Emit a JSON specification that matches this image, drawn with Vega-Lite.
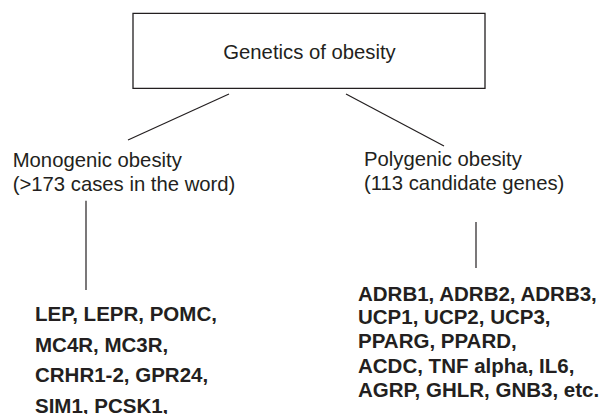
{
  "$schema": "https://vega.github.io/schema/vega-lite/v6.json",
  "width": 605,
  "height": 414,
  "autosize": {"type": "none"},
  "padding": 0,
  "background": "white",
  "config": {"view": {"stroke": null}},
  "datasets": {
    "box": [{"x": 133, "x2": 485, "y": 13.3, "y2": 88.3}],
    "links": [
      {"x": 229, "y": 94, "x2": 128, "y2": 140},
      {"x": 346, "y": 94, "x2": 444, "y2": 146},
      {"x": 86, "y": 200.7, "x2": 86, "y2": 290},
      {"x": 476, "y": 222, "x2": 476, "y2": 268}
    ],
    "labels": [
      {"level": "root", "text": "Genetics of obesity", "x": 309.5, "y": 59.3},
      {"level": "type", "text": "Monogenic obesity", "x": 12.7, "y": 166.7},
      {"level": "type", "text": "(>173 cases in the word)", "x": 12.7, "y": 190.7},
      {"level": "type", "text": "Polygenic obesity", "x": 364, "y": 166.3},
      {"level": "type", "text": "(113 candidate genes)", "x": 364, "y": 190.3},
      {"level": "gene", "text": "LEP, LEPR, POMC,", "x": 35, "y": 320.7},
      {"level": "gene", "text": "MC4R, MC3R,", "x": 35, "y": 351.7},
      {"level": "gene", "text": "CRHR1-2, GPR24,", "x": 35, "y": 382.3},
      {"level": "gene", "text": "SIM1, PCSK1,", "x": 35, "y": 413.3},
      {"level": "gene", "text": "ADRB1, ADRB2, ADRB3,", "x": 358, "y": 300.7},
      {"level": "gene", "text": "UCP1, UCP2, UCP3,", "x": 358, "y": 324.3},
      {"level": "gene", "text": "PPARG, PPARD,", "x": 358, "y": 348.3},
      {"level": "gene", "text": "ACDC, TNF alpha, IL6,", "x": 358, "y": 372.7},
      {"level": "gene", "text": "AGRP, GHLR, GNB3, etc.", "x": 358, "y": 396.7}
    ]
  },
  "layer": [
    {
      "data": {"name": "box"},
      "mark": {"type": "rect", "filled": false, "stroke": "#231f20", "strokeWidth": 1.3},
      "encoding": {
        "x": {"field": "x", "type": "quantitative", "scale": {"domain": [0, 605], "nice": false, "zero": false}, "axis": null},
        "x2": {"field": "x2"},
        "y": {"field": "y", "type": "quantitative", "scale": {"domain": [0, 414], "nice": false, "zero": false, "reverse": true}, "axis": null},
        "y2": {"field": "y2"}
      }
    },
    {
      "data": {"name": "links"},
      "mark": {"type": "rule", "stroke": "#231f20", "strokeWidth": 1.2},
      "encoding": {
        "x": {"field": "x", "type": "quantitative", "axis": null},
        "x2": {"field": "x2"},
        "y": {"field": "y", "type": "quantitative", "axis": null},
        "y2": {"field": "y2"}
      }
    },
    {
      "data": {"name": "labels"},
      "transform": [{"filter": "datum.level === 'root'"}],
      "mark": {"type": "text", "align": "center", "baseline": "alphabetic", "font": "Liberation Sans", "fontSize": 20.3, "fill": "#231f20"},
      "encoding": {
        "x": {"field": "x", "type": "quantitative", "axis": null},
        "y": {"field": "y", "type": "quantitative", "axis": null},
        "text": {"field": "text"}
      }
    },
    {
      "data": {"name": "labels"},
      "transform": [{"filter": "datum.level === 'type'"}],
      "mark": {"type": "text", "align": "left", "baseline": "alphabetic", "font": "Liberation Sans", "fontSize": 20.3, "fill": "#231f20"},
      "encoding": {
        "x": {"field": "x", "type": "quantitative", "axis": null},
        "y": {"field": "y", "type": "quantitative", "axis": null},
        "text": {"field": "text"}
      }
    },
    {
      "data": {"name": "labels"},
      "transform": [{"filter": "datum.level === 'gene'"}],
      "mark": {"type": "text", "align": "left", "baseline": "alphabetic", "font": "Liberation Sans", "fontSize": 20.5, "fontWeight": "bold", "fill": "#231f20"},
      "encoding": {
        "x": {"field": "x", "type": "quantitative", "axis": null},
        "y": {"field": "y", "type": "quantitative", "axis": null},
        "text": {"field": "text"}
      }
    }
  ]
}
